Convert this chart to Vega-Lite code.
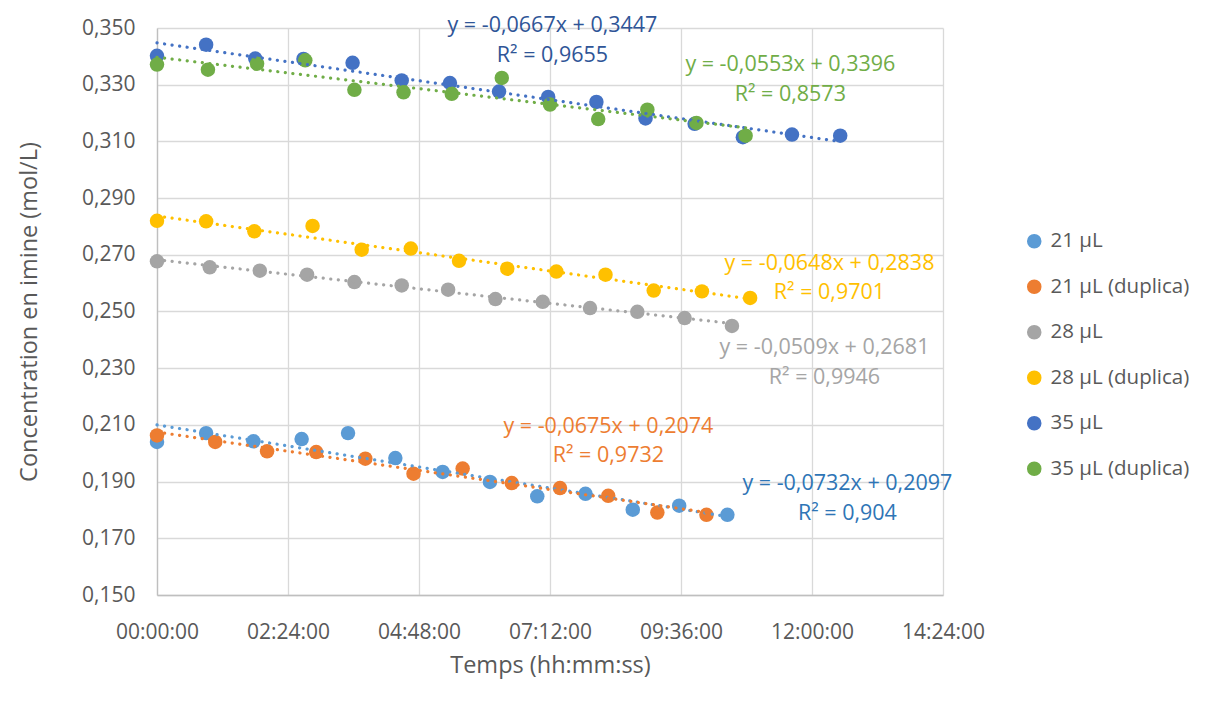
{
  "$schema": "https://vega.github.io/schema/vega-lite/v6.json",
  "width": 786,
  "height": 567,
  "autosize": "none",
  "padding": {"left": 157, "top": 28, "right": 270, "bottom": 117},
  "background": "white",
  "config": {
    "font": "Open Sans",
    "view": {"stroke": null},
    "axis": {
      "labelFont": "Open Sans",
      "titleFont": "Open Sans",
      "labelFontSize": 21,
      "labelColor": "#595959",
      "titleFontSize": 23.5,
      "titleFontWeight": "normal",
      "titleColor": "#595959",
      "gridColor": "#D9D9D9",
      "gridWidth": 1.3,
      "domainColor": "#BFBFBF",
      "domainWidth": 1.3,
      "ticks": false,
      "labelFlush": false
    }
  },
  "datasets": {
    "obs": [
      {"series": "21 µL", "t": 0, "c": 0.2040},
      {"series": "21 µL", "t": 54, "c": 0.2071},
      {"series": "21 µL", "t": 106, "c": 0.2042},
      {"series": "21 µL", "t": 159, "c": 0.2050},
      {"series": "21 µL", "t": 210, "c": 0.2071},
      {"series": "21 µL", "t": 262, "c": 0.1983},
      {"series": "21 µL", "t": 314, "c": 0.1934},
      {"series": "21 µL", "t": 366, "c": 0.1899},
      {"series": "21 µL", "t": 418, "c": 0.1848},
      {"series": "21 µL", "t": 471, "c": 0.1857},
      {"series": "21 µL", "t": 523, "c": 0.1801},
      {"series": "21 µL", "t": 574, "c": 0.1815},
      {"series": "21 µL", "t": 627, "c": 0.1783},
      {"series": "21 µL (duplica)", "t": 0, "c": 0.2063},
      {"series": "21 µL (duplica)", "t": 64, "c": 0.2040},
      {"series": "21 µL (duplica)", "t": 121, "c": 0.2007},
      {"series": "21 µL (duplica)", "t": 175, "c": 0.2004},
      {"series": "21 µL (duplica)", "t": 229, "c": 0.1981},
      {"series": "21 µL (duplica)", "t": 282, "c": 0.1928},
      {"series": "21 µL (duplica)", "t": 336, "c": 0.1946},
      {"series": "21 µL (duplica)", "t": 390, "c": 0.1895},
      {"series": "21 µL (duplica)", "t": 443, "c": 0.1877},
      {"series": "21 µL (duplica)", "t": 496, "c": 0.1850},
      {"series": "21 µL (duplica)", "t": 550, "c": 0.1791},
      {"series": "21 µL (duplica)", "t": 604, "c": 0.1783},
      {"series": "28 µL", "t": 0, "c": 0.2677},
      {"series": "28 µL", "t": 58, "c": 0.2656},
      {"series": "28 µL", "t": 113, "c": 0.2644},
      {"series": "28 µL", "t": 165, "c": 0.2630},
      {"series": "28 µL", "t": 217, "c": 0.2604},
      {"series": "28 µL", "t": 269, "c": 0.2592},
      {"series": "28 µL", "t": 320, "c": 0.2577},
      {"series": "28 µL", "t": 372, "c": 0.2544},
      {"series": "28 µL", "t": 424, "c": 0.2534},
      {"series": "28 µL", "t": 476, "c": 0.2512},
      {"series": "28 µL", "t": 528, "c": 0.2499},
      {"series": "28 µL", "t": 580, "c": 0.2477},
      {"series": "28 µL", "t": 632, "c": 0.2449},
      {"series": "28 µL (duplica)", "t": 0, "c": 0.2820},
      {"series": "28 µL (duplica)", "t": 54, "c": 0.2818},
      {"series": "28 µL (duplica)", "t": 107, "c": 0.2783},
      {"series": "28 µL (duplica)", "t": 171, "c": 0.2802},
      {"series": "28 µL (duplica)", "t": 225, "c": 0.2718},
      {"series": "28 µL (duplica)", "t": 279, "c": 0.2722},
      {"series": "28 µL (duplica)", "t": 332, "c": 0.2679},
      {"series": "28 µL (duplica)", "t": 385, "c": 0.2651},
      {"series": "28 µL (duplica)", "t": 439, "c": 0.2641},
      {"series": "28 µL (duplica)", "t": 493, "c": 0.2630},
      {"series": "28 µL (duplica)", "t": 546, "c": 0.2574},
      {"series": "28 µL (duplica)", "t": 599, "c": 0.2571},
      {"series": "28 µL (duplica)", "t": 652, "c": 0.2548},
      {"series": "35 µL", "t": 0, "c": 0.3402},
      {"series": "35 µL", "t": 54, "c": 0.3441},
      {"series": "35 µL", "t": 108, "c": 0.3392},
      {"series": "35 µL", "t": 161, "c": 0.3391},
      {"series": "35 µL", "t": 215, "c": 0.3377},
      {"series": "35 µL", "t": 269, "c": 0.3315},
      {"series": "35 µL", "t": 322, "c": 0.3306},
      {"series": "35 µL", "t": 376, "c": 0.3276},
      {"series": "35 µL", "t": 430, "c": 0.3257},
      {"series": "35 µL", "t": 483, "c": 0.3239},
      {"series": "35 µL", "t": 537, "c": 0.3181},
      {"series": "35 µL", "t": 591, "c": 0.3162},
      {"series": "35 µL", "t": 644, "c": 0.3115},
      {"series": "35 µL", "t": 698, "c": 0.3124},
      {"series": "35 µL", "t": 751, "c": 0.3120},
      {"series": "35 µL (duplica)", "t": 0, "c": 0.3371},
      {"series": "35 µL (duplica)", "t": 56, "c": 0.3353},
      {"series": "35 µL (duplica)", "t": 110, "c": 0.3374},
      {"series": "35 µL (duplica)", "t": 163, "c": 0.3386},
      {"series": "35 µL (duplica)", "t": 217, "c": 0.3282},
      {"series": "35 µL (duplica)", "t": 271, "c": 0.3273},
      {"series": "35 µL (duplica)", "t": 324, "c": 0.3268},
      {"series": "35 µL (duplica)", "t": 379, "c": 0.3324},
      {"series": "35 µL (duplica)", "t": 432, "c": 0.3230},
      {"series": "35 µL (duplica)", "t": 485, "c": 0.3179},
      {"series": "35 µL (duplica)", "t": 539, "c": 0.3212},
      {"series": "35 µL (duplica)", "t": 593, "c": 0.3165},
      {"series": "35 µL (duplica)", "t": 647, "c": 0.3120}
    ],
    "labels": [
      {"series": "35 µL", "t": 434.7, "c": 0.3508, "text": "y = -0,0667x + 0,3447"},
      {"series": "35 µL", "t": 434.7, "c": 0.3402, "text": "R² = 0,9655"},
      {"series": "35 µL (duplica)", "t": 696.2, "c": 0.3371, "text": "y = -0,0553x + 0,3396"},
      {"series": "35 µL (duplica)", "t": 696.2, "c": 0.3265, "text": "R² = 0,8573"},
      {"series": "28 µL (duplica)", "t": 739.2, "c": 0.2669, "text": "y = -0,0648x + 0,2838"},
      {"series": "28 µL (duplica)", "t": 739.2, "c": 0.2566, "text": "R² = 0,9701"},
      {"series": "28 µL", "t": 733.7, "c": 0.2372, "text": "y = -0,0509x + 0,2681"},
      {"series": "28 µL", "t": 733.7, "c": 0.2267, "text": "R² = 0,9946"},
      {"series": "21 µL (duplica)", "t": 496.2, "c": 0.2094, "text": "y = -0,0675x + 0,2074"},
      {"series": "21 µL (duplica)", "t": 496.2, "c": 0.1991, "text": "R² = 0,9732"},
      {"series": "21 µL", "t": 758.9, "c": 0.1893, "text": "y = -0,0732x + 0,2097"},
      {"series": "21 µL", "t": 758.9, "c": 0.1787, "text": "R² = 0,904"}
    ]
  },
  "layer": [
    {
      "data": {"name": "obs"},
      "mark": {"type": "circle", "size": 210, "opacity": 1},
      "encoding": {
        "x": {
          "field": "t",
          "type": "quantitative",
          "scale": {"domain": [0, 864], "nice": false, "zero": false},
          "axis": {
            "values": [0, 144, 288, 432, 576, 720, 864],
            "labelExpr": "utcFormat(datum.value * 60000, '%H:%M:%S')",
            "labelPadding": 26,
            "title": "Temps (hh:mm:ss)",
            "titlePadding": 11
          }
        },
        "y": {
          "field": "c",
          "type": "quantitative",
          "scale": {"domain": [0.15, 0.35], "nice": false, "zero": false},
          "axis": {
            "values": [0.15, 0.17, 0.19, 0.21, 0.23, 0.25, 0.27, 0.29, 0.31, 0.33, 0.35],
            "labelExpr": "replace(format(datum.value, '.3f'), '.', ',')",
            "labelPadding": 22,
            "title": "Concentration en imine (mol/L)",
            "titlePadding": 40
          }
        },
        "color": {
          "field": "series",
          "type": "nominal",
          "scale": {
            "domain": ["21 µL", "21 µL (duplica)", "28 µL", "28 µL (duplica)", "35 µL", "35 µL (duplica)"],
            "range": ["#5B9BD5", "#ED7D31", "#A5A5A5", "#FFC000", "#4472C4", "#70AD47"]
          },
          "legend": {
            "title": null,
            "orient": "none",
            "legendX": 867,
            "legendY": 203,
            "symbolType": "circle",
            "symbolSize": 170,
            "labelFont": "Open Sans",
            "labelFontSize": 20.5,
            "labelColor": "#595959",
            "labelOffset": 6,
            "rowPadding": 24.5,
            "padding": 0
          }
        }
      }
    },
    {
      "data": {"name": "obs"},
      "transform": [{"regression": "c", "on": "t", "groupby": ["series"]}],
      "mark": {"type": "line", "strokeWidth": 3.2, "strokeDash": [0.1, 7.5], "strokeCap": "round"},
      "encoding": {
        "x": {"field": "t", "type": "quantitative"},
        "y": {"field": "c", "type": "quantitative"},
        "color": {"field": "series", "type": "nominal", "legend": null}
      }
    },
    {
      "data": {"name": "labels"},
      "mark": {"type": "text", "align": "center", "baseline": "middle", "fontSize": 21.5, "font": "Open Sans"},
      "encoding": {
        "x": {"field": "t", "type": "quantitative"},
        "y": {"field": "c", "type": "quantitative"},
        "text": {"field": "text"},
        "fill": {
          "field": "series",
          "type": "nominal",
          "scale": {
            "domain": ["21 µL", "21 µL (duplica)", "28 µL", "28 µL (duplica)", "35 µL", "35 µL (duplica)"],
            "range": ["#2E75B6", "#ED7D31", "#A5A5A5", "#FFC000", "#2F5597", "#70AD47"]
          },
          "legend": null
        }
      }
    }
  ]
}
